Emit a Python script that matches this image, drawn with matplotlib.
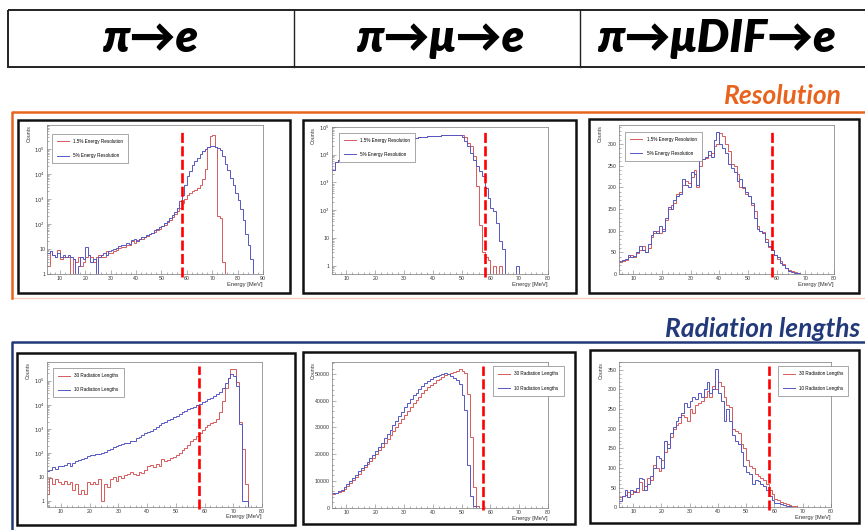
import numpy as np
import matplotlib.pyplot as plt
from matplotlib.patches import Rectangle
from matplotlib.ticker import FuncFormatter, AutoMinorLocator, LogLocator, NullFormatter, MultipleLocator, FixedLocator

# ---- data: counts per 1 MeV bin, first bin starts at 5 MeV ----
e_start = 5

# pi -> e, energy resolution
pie_res15 = [2, 8, 6, 5, 9, 4, 5, 5, 5, 1, 4, 3, 5, 2, 3, 5, 6, 5, 3, 5,
             6, 5, 5, 8, 7, 7, 8, 9, 11, 12, 12, 14, 15, 20, 18, 22, 24, 26, 30, 32,
             38, 42, 48, 55, 62, 80, 95, 120, 150, 190, 260, 340, 450, 700, 1000, 1400, 1700, 2000, 2300, 2800,
             3500, 6000, 15000, 120000, 330000, 370000, 120000, 200, 180, 3, 0, 0, 0, 0, 0, 0, 0, 0, 0, 0,
             0, 0, 0, 0, 0]
pie_res5 = [7, 8, 6, 5, 7, 5, 6, 5, 6, 5, 4, 1, 2, 5, 4, 12, 6, 3, 4, 1,
            5, 6, 7, 6, 8, 9, 10, 11, 13, 14, 15, 17, 16, 22, 24, 21, 26, 30, 30, 35,
            40, 45, 55, 65, 75, 85, 110, 135, 170, 220, 300, 450, 800, 1400, 3500, 8000, 13000, 22000, 32000, 45000,
            65000, 85000, 100000, 120000, 130000, 130000, 120000, 110000, 90000, 50000, 25000, 14000, 7000, 3500, 1800, 900, 400, 150, 40, 15,
            4, 1, 0, 0, 0]

# pi -> mu -> e, energy resolution
pimue_res15 = [2900, 5700, 6200, 6800, 7700, 8700, 9700, 10800, 12000, 13200, 14500, 15700, 17000, 18300, 19600, 21000, 22500, 24000, 25500, 27000,
               28500, 30000, 31500, 33000, 34500, 36000, 37400, 38800, 40100, 41400, 42600, 43700, 44800, 45800, 46700, 47500, 48200, 48900, 49500, 50000,
               50400, 50700, 51000, 51200, 51500, 50000, 45000, 26000, 20000, 8700, 720, 30, 3, 2, 1.6, 0, 1, 0, 1, 0,
               0, 0, 0, 0, 0, 0, 0, 0, 0, 0, 0, 0, 0, 0, 0]
pimue_res5 = [2900, 5700, 6200, 6800, 7700, 8700, 9700, 10800, 12000, 13200, 14500, 15700, 17000, 18300, 19600, 21000, 22500, 24000, 25500, 27000,
              28500, 30000, 31500, 33000, 34500, 36000, 37400, 38800, 40100, 41400, 42600, 43700, 44800, 45800, 46700, 47500, 48200, 48900, 49500, 50000,
              50400, 50700, 51000, 51200, 50000, 45000, 30000, 20000, 12000, 6600, 3800, 2500, 1650, 630, 270, 120, 90, 34, 8, 4,
              0, 0, 0, 0, 1, 0, 0, 0, 0, 0, 0, 0, 0, 0, 0]

# pi -> mu DIF -> e, energy resolution
dif_res15 = [28, 30, 33, 40, 45, 40, 48, 55, 65, 50, 60, 85, 95, 100, 95, 105, 125, 150, 160, 165,
             185, 190, 205, 215, 210, 225, 240, 200, 250, 265, 268, 275, 280, 295, 300, 325, 318, 300, 285, 255,
             250, 230, 200, 198, 185, 180, 160, 145, 110, 100, 98, 80, 62, 55, 45, 35, 30, 22, 15, 10,
             6, 4, 2, 1, 1, 0, 0, 0, 0, 0, 0, 0, 0, 0, 0]
dif_res5 = [30, 32, 35, 45, 40, 42, 50, 65, 55, 50, 70, 90, 100, 95, 110, 100, 130, 155, 150, 170,
            180, 185, 220, 205, 200, 235, 230, 205, 265, 265, 270, 285, 270, 310, 328, 300, 290, 280, 255, 245,
            235, 215, 220, 200, 190, 180, 165, 130, 105, 100, 95, 75, 65, 55, 45, 40, 25, 20, 15, 8,
            5, 3, 2, 1, 1, 0, 0, 0, 0, 0, 0, 0, 0, 0, 0]

# pi -> e, radiation lengths
pie_x30 = [2, 9, 5, 8, 6, 5, 7, 5, 6, 3, 5, 2, 3, 2, 6, 5, 6, 5, 8, 1,
           5, 4, 8, 10, 7, 11, 9, 12, 13, 16, 14, 12, 17, 15, 20, 28, 33, 25, 35, 30,
           55, 45, 52, 60, 70, 80, 100, 130, 160, 220, 300, 380, 500, 700, 900, 1200, 1500, 1700, 2000, 2500,
           5000, 15000, 50000, 130000, 300000, 310000, 90000, 2000, 150, 5, 0, 0, 0, 0, 0]
pie_x10 = [18, 20, 25, 22, 28, 30, 32, 38, 30, 40, 45, 50, 55, 60, 78, 80, 85, 90, 95, 100,
           110, 130, 150, 170, 190, 210, 230, 250, 270, 300, 330, 400, 480, 560, 650, 750, 850, 1000, 1200, 1400,
           1700, 2000, 2300, 2700, 3100, 3600, 4200, 5000, 5700, 6500, 7500, 8500, 9500, 11000, 12500, 14500, 17000, 20000, 24000, 28000,
           35000, 50000, 80000, 130000, 190000, 160000, 60000, 1600, 1, 1, 0, 0, 0, 0, 0]

# pi -> mu -> e, radiation lengths
pimue_x30 = [5200, 5400, 5700, 6300, 7000, 8200, 9200, 10300, 11500, 12700, 13900, 15000, 16200, 17400, 18700, 20000, 21400, 22800, 24300, 25800,
             27200, 28700, 30200, 31700, 33200, 34600, 36100, 37500, 39000, 40300, 41500, 42800, 43900, 45000, 46000, 46800, 47600, 48300, 49000, 49500,
             50000, 50400, 50800, 51200, 51800, 51200, 50200, 42700, 26500, 7800, 600, 0, 0, 0, 0, 0, 0, 0, 0, 0,
             0, 0, 0, 0, 0, 0, 0, 0, 0, 0, 0, 0, 0, 0, 0]
pimue_x10 = [5500, 5600, 6000, 6600, 7500, 8800, 9800, 11000, 12200, 13500, 14800, 16000, 17200, 18500, 19800, 21200, 22800, 24300, 26000, 27500,
             29200, 30800, 32500, 34200, 35800, 37500, 39000, 40500, 42000, 43000, 44200, 45400, 46500, 47400, 48200, 48700, 49200, 49700, 50000, 50300,
             49900, 49300, 48600, 47800, 46400, 42000, 36400, 15900, 4350, 400, 0, 0, 0, 0, 0, 0, 0, 0, 0, 0,
             0, 0, 0, 0, 0, 0, 0, 0, 0, 0, 0, 0, 0, 0, 0]

# pi -> mu DIF -> e, radiation lengths
dif_x30 = [25, 30, 32, 40, 35, 42, 40, 65, 45, 55, 75, 70, 108, 100, 92, 120, 140, 160, 180, 200,
           210, 215, 235, 230, 220, 250, 240, 260, 265, 270, 280, 295, 280, 310, 300, 320, 310, 280, 260, 255,
           200, 195, 190, 160, 150, 120, 105, 100, 85, 80, 75, 70, 60, 45, 35, 20, 18, 14, 10, 8,
           6, 4, 3, 2, 1, 1, 0, 0, 0, 0, 0, 0, 0, 0, 0]
dif_x10 = [15, 30, 44, 25, 45, 40, 48, 75, 72, 45, 60, 80, 100, 130, 125, 100, 170, 150, 190, 205,
           220, 230, 240, 265, 255, 270, 280, 275, 290, 280, 300, 320, 290, 300, 352, 290, 270, 220, 250, 220,
           185, 170, 160, 140, 105, 90, 85, 60, 70, 68, 60, 55, 45, 30, 18, 12, 10, 8, 6, 4,
           3, 2, 1, 1, 0, 0, 0, 0, 0, 0, 0, 0, 0, 0, 0]

headers = ["π→e", "π→μ→e", "π→μDIF→e"]
res_labels = ["1.5% Energy Resolution", "5% Energy Resolution"]
rad_labels = ["30 Radiation Lengths", "10 Radiation Lengths"]
cut_energy = [58.2, 58.0, 58.4, 58.2, 57.6, 57.9]

RED = '#d65a5a'
BLUE = '#5656c4'
ORANGE = '#e8641e'
NAVY = '#22397a'
W, H = 865, 530

fig = plt.figure(figsize=(W / 100, H / 100), dpi=100)
bg = fig.add_axes([0, 0, 1, 1])
bg.set_xlim(0, W)
bg.set_ylim(H, 0)
bg.axis('off')

# header table
bg.add_patch(Rectangle((8, 10), 870, 57, fill=False, lw=1.4, ec='#222'))
for xv in (294, 580):
    bg.plot([xv, xv], [10, 67], color='#222', lw=1.0)
title_font = dict(family=['Lato', 'DejaVu Sans'], weight='heavy', style='italic', fontsize=33)
for xc, t in zip((150, 440, 716), headers):
    bg.text(xc, 39, t, ha='center', va='center', **title_font)

# section boxes
bg.text(842, 96, "Resolution", ha='right', va='center', color=ORANGE,
        family=['Lato', 'DejaVu Sans'], weight='bold', style='italic', fontsize=19)
bg.plot([12, 12, 870], [298, 112, 112], color=ORANGE, lw=1.8)
bg.plot([12, 870], [298, 298], color=ORANGE, lw=1.0, alpha=0.3)
bg.text(860, 329, "Radiation lengths", ha='right', va='center', color=NAVY,
        family=['Lato', 'DejaVu Sans'], weight='bold', style='italic', fontsize=19)
bg.plot([12, 12, 870], [540, 342, 342], color=NAVY, lw=1.8)

# panel frames
frames = [(18, 120, 290, 293), (303, 120, 576, 293), (589, 119, 859, 293),
          (17, 353, 295, 525), (303, 352, 575, 524), (590, 350, 859, 523)]
for x0, y0, x1, y1 in frames:
    bg.add_patch(Rectangle((x0, y0), x1 - x0, y1 - y0, fill=False, lw=1.8, ec='#111'))


def px_axes(x0, y0, x1, y1):
    return fig.add_axes([x0 / W, 1 - y1 / H, (x1 - x0) / W, (y1 - y0) / H])


def log_fmt(v, pos):
    if v <= 0:
        return ''
    n = int(round(np.log10(v)))
    if n == 0:
        return '1'
    if n == 1:
        return '10'
    return r'$10^{%d}$' % n


def draw_panel(rect, red, blue, labels, xmax, ylim, log, leg_anchor, cut):
    ax = px_axes(*rect)
    edges = e_start + np.arange(len(red) + 1)
    r = np.asarray(red, float)
    b = np.asarray(blue, float)
    if log:
        ax.set_yscale('log')
        r = np.where(r > 0, r, 1e-3)
        b = np.where(b > 0, b, 1e-3)
    ax.stairs(r, edges, color=RED, lw=0.7, baseline=None, label=labels[0])
    ax.stairs(b, edges, color=BLUE, lw=0.7, baseline=None, label=labels[1])
    ax.set_xlim(e_start, xmax)
    ax.set_ylim(*ylim)
    ax.xaxis.set_major_locator(MultipleLocator(10))
    ax.xaxis.set_minor_locator(MultipleLocator(2))
    if log:
        decades = [10.0 ** k for k in range(0, 7) if ylim[0] <= 10.0 ** k <= ylim[1]]
        ax.yaxis.set_major_locator(FixedLocator(decades))
        ax.yaxis.set_minor_locator(LogLocator(base=10, subs=np.arange(2, 10), numticks=12))
        ax.yaxis.set_major_formatter(FuncFormatter(log_fmt))
        ax.yaxis.set_minor_formatter(NullFormatter())
    else:
        ax.yaxis.set_minor_locator(AutoMinorLocator(5))
    for s in ax.spines.values():
        s.set_color('#777')
        s.set_linewidth(0.5)
    ax.tick_params(which='both', direction='in', colors='#777', labelcolor='#333',
                   labelsize=3.8, width=0.4, pad=1.5)
    ax.tick_params(which='major', length=3)
    ax.tick_params(which='minor', length=1.6)
    for lab in ax.get_xticklabels() + ax.get_yticklabels():
        lab.set_family('Liberation Sans')
    ax.text(-0.085, 1.0, 'Counts', rotation=90, ha='center', va='top', fontsize=3.8,
            transform=ax.transAxes, family='Liberation Sans', color='#333')
    ax.text(1.0, -0.055, 'Energy [MeV]', ha='right', va='top', fontsize=4.2,
            transform=ax.transAxes, family='Liberation Sans', color='#333')
    ax.plot([cut, cut], [-0.02, 0.97], transform=ax.get_xaxis_transform(), clip_on=False,
            color='#ff0000', lw=1.9, ls=(0, (3.8, 1.3)), zorder=5)
    leg = ax.legend(loc='upper left', bbox_to_anchor=leg_anchor, borderaxespad=0,
                    frameon=True, fancybox=False, edgecolor='#666',
                    framealpha=1, handlelength=2.6, handletextpad=0.9, labelspacing=2.0,
                    borderpad=1.1, prop={'family': 'Liberation Sans', 'size': 3.3})
    leg.get_frame().set_linewidth(0.4)
    leg.set_zorder(6)
    return ax


draw_panel((47.3, 125, 263, 274), pie_res15, pie_res5, res_labels, 90, (1, 9e5), True, (0.02, 0.94), cut_energy[0])
draw_panel((332, 127, 548, 274), pimue_res15, pimue_res5, res_labels, 80, (0.5, 1e5), True, (0.034, 0.96), cut_energy[1])
draw_panel((619, 125, 834, 274), dif_res15, dif_res5, res_labels, 80, (0, 344), False, (0.03, 0.955), cut_energy[2])
draw_panel((46.6, 362, 262, 506.5), pie_x30, pie_x10, rad_labels, 80, (0.6, 6e5), True, (0.03, 0.957), cut_energy[3])
draw_panel((332, 362, 548, 507.5), pimue_x30, pimue_x10, rad_labels, 80, (0, 54500), False, (0.746, 0.97), cut_energy[4])
draw_panel((619, 362, 831, 507.3), dif_x30, dif_x10, rad_labels, 80, (0, 370), False, (0.749, 0.97), cut_energy[5])

fig.savefig('out.png', dpi=100)
